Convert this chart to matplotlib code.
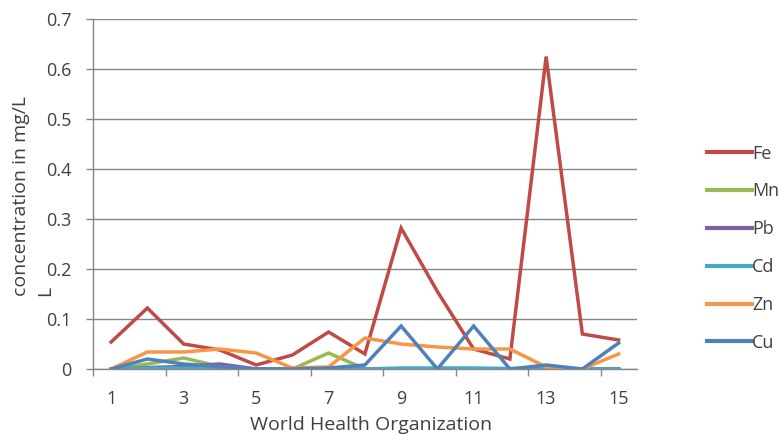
import matplotlib
matplotlib.use("Agg")
import matplotlib.pyplot as plt

samples = list(range(1, 16))
fe = [0.054, 0.122, 0.050, 0.038, 0.008, 0.028, 0.074, 0.030, 0.282, 0.155, 0.040, 0.020, 0.625, 0.070, 0.058]
mn = [0.0, 0.010, 0.022, 0.005, 0.0, 0.0, 0.032, 0.0, 0.0, 0.0, 0.0, 0.0, 0.0, 0.0, 0.0]
pb = [0.0, 0.003, 0.005, 0.010, 0.0, 0.0, 0.0, 0.0, 0.0, 0.0, 0.0, 0.0, 0.0, 0.0, 0.0]
cd = [0.0, 0.002, 0.002, 0.001, 0.0, 0.0, 0.0, 0.0, 0.002, 0.002, 0.002, 0.001, 0.001, 0.0, 0.0]
zn = [0.0, 0.034, 0.034, 0.040, 0.032, 0.002, 0.004, 0.062, 0.050, 0.044, 0.040, 0.040, 0.004, 0.0, 0.030]
cu = [0.0, 0.020, 0.010, 0.005, 0.0, 0.0, 0.002, 0.008, 0.086, 0.0, 0.086, 0.0, 0.008, 0.0, 0.052]

series_names = ["Fe", "Mn", "Pb", "Cd", "Zn", "Cu"]
series_vals = [fe, mn, pb, cd, zn, cu]
colors = ["#BE4B48", "#98B954", "#7D60A0", "#46AAC5", "#F79646", "#4F81BD"]
xtick_labels = ["1", "3", "5", "7", "9", "11", "13", "15"]
yticks = [0, 0.1, 0.2, 0.3, 0.4, 0.5, 0.6, 0.7]
ytick_labels = ["0", "0.1", "0.2", "0.3", "0.4", "0.5", "0.6", "0.7"]

plt.rcParams['font.family'] = ['Open Sans', 'DejaVu Sans']
FS = 13
LFS = 14
TXT = "#404040"

fig = plt.figure(figsize=(7.79, 4.45), dpi=100)
ax = fig.add_axes([0.1194, 0.1708, 0.698, 0.7862])

for name, vals, c in zip(series_names, series_vals, colors):
    ax.plot(samples, vals, color=c, lw=2.5, label=name, solid_joinstyle='miter')

ax.set_xlim(0.5, 15.5)
ax.set_ylim(0, 0.7)
ax.set_yticks(yticks)
ax.set_yticklabels(ytick_labels, fontsize=FS, color=TXT)
ax.set_xticks([1, 3, 5, 7, 9, 11, 13, 15])
ax.set_xticklabels(xtick_labels, fontsize=FS, color=TXT)
ax.set_xticks([0.5 + 2 * k for k in range(8)], minor=True)
ax.tick_params(axis='x', which='major', length=0, pad=15)
ax.tick_params(axis='x', which='minor', length=5, color="#868686", width=1)
ax.tick_params(axis='y', length=5, color="#868686", width=1, pad=10.5)

ax.grid(axis='y', color="#868686", lw=1)
ax.set_axisbelow(True)
for s in ['top', 'right']:
    ax.spines[s].set_visible(False)
for s in ['left', 'bottom']:
    ax.spines[s].set_color("#868686")
    ax.spines[s].set_linewidth(1)

fig.text(371 / 779, 1 - 430 / 445, "World Health Organization", fontsize=LFS, color=TXT,
         ha='center', va='baseline')
fig.text(21 / 779, 1 - 296 / 445, "concentration in mg/L", fontsize=LFS, color=TXT,
         rotation=90, ha='center', va='bottom')
fig.text(45 / 779, 1 - 296 / 445, "L", fontsize=LFS, color=TXT,
         rotation=90, ha='center', va='bottom')

leg = fig.legend(loc='upper left', bbox_to_anchor=(0.898, 0.6915), frameon=False,
                 fontsize=FS, handlelength=2.5, handletextpad=0.0,
                 labelspacing=1.1, borderaxespad=0)
for t in leg.get_texts():
    t.set_color(TXT)
for l in leg.get_lines():
    l.set_linewidth(3.0)

fig.savefig("out.png", dpi=100)
